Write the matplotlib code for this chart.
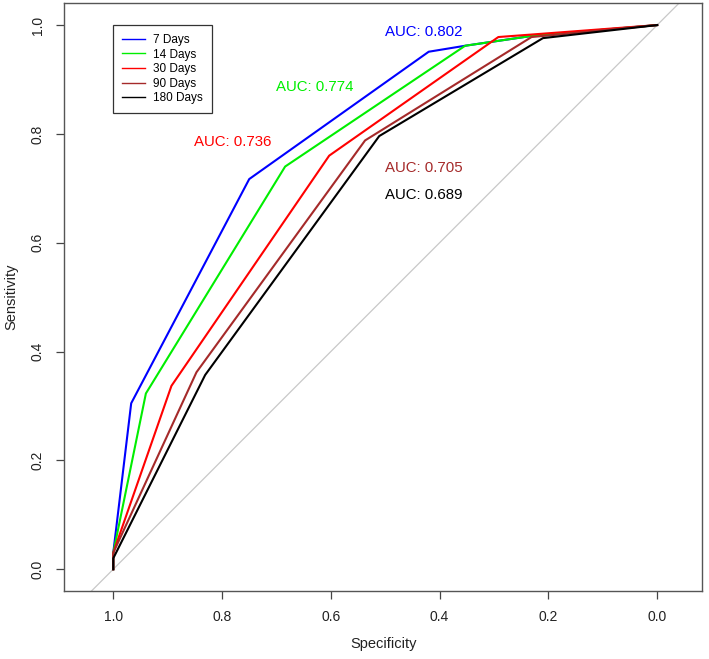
import matplotlib
matplotlib.use("Agg")
import matplotlib.pyplot as plt

plt.rcParams['font.family'] = ['Liberation Sans', 'DejaVu Sans']

# ROC curves (specificity, sensitivity)
spec_7 = [1.0, 1.0, 0.967, 0.75, 0.42, 0.353, 0.231, 0.0]
sens_7 = [0.0, 0.03, 0.305, 0.717, 0.951, 0.962, 0.98, 1.0]
spec_14 = [1.0, 1.0, 0.94, 0.684, 0.353, 0.231, 0.0]
sens_14 = [0.0, 0.03, 0.323, 0.74, 0.962, 0.98, 1.0]
spec_30 = [1.0, 1.0, 0.893, 0.603, 0.292, 0.0]
sens_30 = [0.0, 0.03, 0.337, 0.76, 0.978, 1.0]
spec_90 = [1.0, 1.0, 0.847, 0.537, 0.231, 0.0]
sens_90 = [0.0, 0.03, 0.362, 0.788, 0.978, 1.0]
spec_180 = [1.0, 1.0, 0.831, 0.511, 0.21, 0.0]
sens_180 = [0.0, 0.02, 0.357, 0.796, 0.976, 1.0]

labels = ['7 Days', '14 Days', '30 Days', '90 Days', '180 Days']
aucs = [0.802, 0.774, 0.736, 0.705, 0.689]
colors = ['#0000ff', '#00ee00', '#ff0000', '#a52a2a', '#000000']
specs = [spec_7, spec_14, spec_30, spec_90, spec_180]
senss = [sens_7, sens_14, sens_30, sens_90, sens_180]

# where the AUC text sits (left edge x, centre y), data units
auc_x = [0.50, 0.70, 0.852, 0.50, 0.50]
auc_y = [0.987, 0.886, 0.786, 0.738, 0.688]

fig = plt.figure(figsize=(7.09, 6.59), dpi=100)
ax = fig.add_axes([64.3 / 709, (659 - 591) / 659, 638 / 709, 587.7 / 659])

# chance line
ax.axline((1, 0), (0, 1), color='#c8c8c8', lw=0.9, zorder=1)

lines = []
for s, t, c, lab in zip(specs, senss, colors, labels):
    ln, = ax.plot(s, t, color=c, lw=1.5, label=lab, zorder=2)
    lines.append(ln)

for x, y, a, c in zip(auc_x, auc_y, aucs, colors):
    ax.text(x, y, 'AUC: %.3f' % a, color=c, fontsize=10.8,
            ha='left', va='center')

ax.set_xlim(1.090, -0.083)
ax.set_ylim(-0.04, 1.04)

ax.set_xticks([1.0, 0.8, 0.6, 0.4, 0.2, 0.0])
ax.set_yticks([0.0, 0.2, 0.4, 0.6, 0.8, 1.0])
ax.set_xticklabels(['1.0', '0.8', '0.6', '0.4', '0.2', '0.0'])
ax.set_yticklabels(['0.0', '0.2', '0.4', '0.6', '0.8', '1.0'], rotation=90, va='center')
ax.tick_params(axis='both', length=6, width=0.9, color='#444444',
               labelsize=10, labelcolor='#222222', pad=8)
for sp in ax.spines.values():
    sp.set_color('#555555')
    sp.set_linewidth(1.0)

ax.set_xlabel('Specificity', fontsize=10.5, labelpad=9, color='#222222')
ax.set_ylabel('Sensitivity', fontsize=10.5, labelpad=9, color='#222222')

# legend top-left corner sits on (1, 1)
lgd = ax.legend(handles=lines, loc='upper left', bbox_to_anchor=(1.0, 1.0),
                bbox_transform=ax.transData, borderaxespad=0, fontsize=8.5,
                fancybox=False, framealpha=1, edgecolor='#333333',
                handlelength=1.9, handletextpad=0.75, borderpad=0.75,
                labelspacing=0.22)
lgd.get_frame().set_linewidth(0.9)
for h in lgd.get_lines():
    h.set_linewidth(1.0)

fig.savefig('out.png', dpi=100)
